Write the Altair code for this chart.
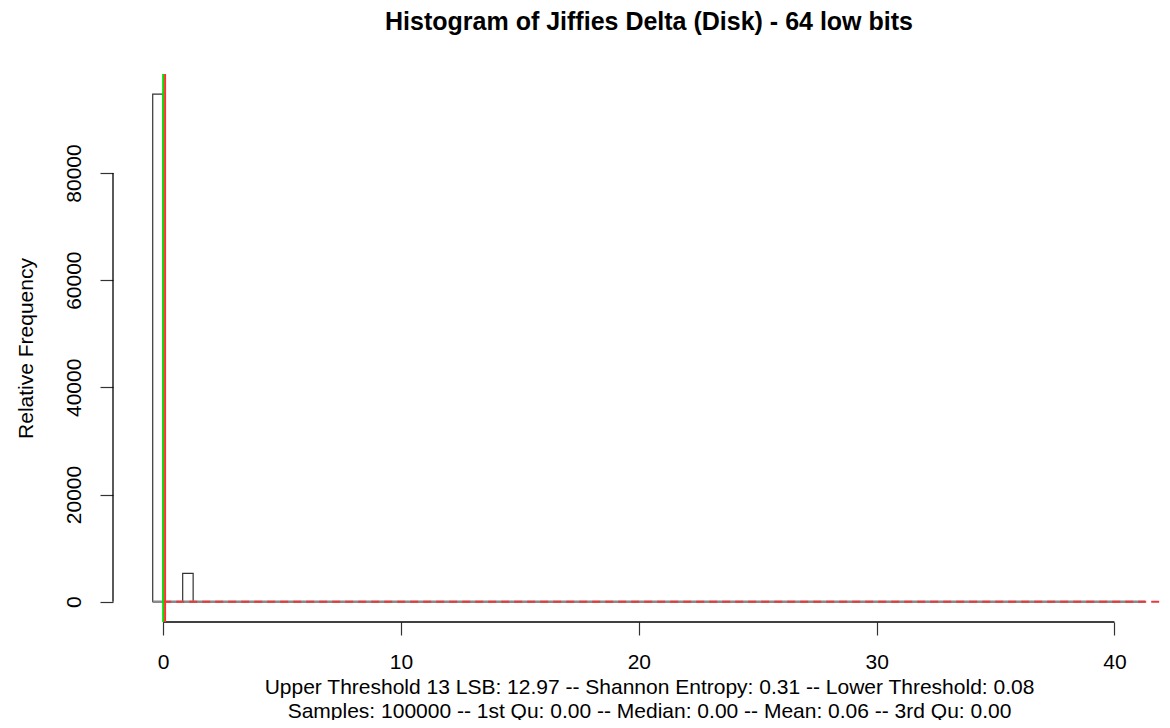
import altair as alt
import pandas as pd

# ---- text ----
chart_title = "Histogram of Jiffies Delta (Disk) - 64 low bits"
x_label_lines = [
    "Upper Threshold 13 LSB: 12.97 -- Shannon Entropy: 0.31 -- Lower Threshold: 0.08",
    "Samples: 100000 -- 1st Qu: 0.00 -- Median: 0.00 -- Mean: 0.06 -- 3rd Qu: 0.00",
]
y_label = "Relative Frequency"

# ---- histogram bins ----
bin_left = [-0.44, 0.82]
bin_right = [0.0, 1.26]
counts = [94700, 5300]

# empty bins (zero-height outline) and dashed reference line
base_start = [-0.44]
base_end = [41.29]
dash_start = [0.0]
dash_end = [42.0]

# vertical reference lines
vline_x = [0.0, 0.08]
vline_color = ["#00e000", "#ff3030"]

# axis ticks
x_ticks = [0, 10, 20, 30, 40]
y_ticks = [0, 20000, 40000, 60000, 80000]

X_DOMAIN = [-2.11, 42.0]
Y_DOMAIN = [-3788, 98470]

FONT = "Liberation Sans"

xs = alt.Scale(domain=X_DOMAIN, nice=False, zero=False)
ys = alt.Scale(domain=Y_DOMAIN, nice=False, zero=False)

XAXIS = alt.Axis(
    values=x_ticks, format="d", labelFlush=False, labelOverlap=False,
    labelPadding=33, labelBaseline="alphabetic", labelAlign="center",
    title=x_label_lines, titleX=536, titleY=71, titleAlign="center",
    titleBaseline="alphabetic", titleLineHeight=24)
YAXIS = alt.Axis(
    values=y_ticks, format="d", labelAngle=270, labelAlign="center",
    labelBaseline="alphabetic", labelPadding=20, labelFlush=False,
    labelOverlap=False,
    title=y_label, titleX=-81, titleY=274, titleAngle=270,
    titleAlign="center", titleBaseline="alphabetic")

bars_df = pd.DataFrame({"x": bin_left, "x2": bin_right,
                        "y": [0] * len(counts), "y2": counts})
base_df = pd.DataFrame({"x": base_start, "x2": base_end, "y": [0]})
dash_df = pd.DataFrame({"x": dash_start, "x2": dash_end, "y": [0]})
vl_df = pd.DataFrame({"x": vline_x, "c": vline_color,
                      "y": [Y_DOMAIN[0]] * len(vline_x),
                      "y2": [Y_DOMAIN[1]] * len(vline_x)})
xaxis_df = pd.DataFrame({"x": [x_ticks[0]], "x2": [x_ticks[-1]], "y": [Y_DOMAIN[0]]})
yaxis_df = pd.DataFrame({"y": [y_ticks[0]], "y2": [y_ticks[-1]], "x": [X_DOMAIN[0]]})


def X():
    return alt.X("x:Q", scale=xs, axis=XAXIS)


def Y():
    return alt.Y("y:Q", scale=ys, axis=YAXIS)


bars = alt.Chart(bars_df).mark_rect(
    fill="white", fillOpacity=0, stroke="#333333", strokeWidth=1.2
).encode(x=X(), x2="x2:Q", y=Y(), y2="y2:Q")

base = alt.Chart(base_df).mark_rule(color="#8a8a8a", strokeWidth=2.5).encode(
    x=X(), x2="x2:Q", y=Y())

dash = alt.Chart(dash_df).mark_rule(color="#e83a3a", strokeWidth=2,
                                    strokeDash=[8, 5]).encode(
    x=X(), x2="x2:Q", y=Y())

xaxis_line = alt.Chart(xaxis_df).mark_rule(color="black", strokeWidth=1.3).encode(
    x=X(), x2="x2:Q", y=Y())

yaxis_line = alt.Chart(yaxis_df).mark_rule(color="black", strokeWidth=1.3).encode(
    y=Y(), y2="y2:Q", x=X())

vlines = alt.Chart(vl_df).mark_rule(strokeWidth=2).encode(
    x=X(), y=Y(), y2="y2:Q",
    color=alt.Color("c:N", scale=None, legend=None),
)

chart = alt.layer(bars, base, dash, xaxis_line, yaxis_line, vlines).properties(
    width=1049, height=548,
    title=alt.TitleParams(chart_title, anchor="middle", dx=11.5, offset=38),
    autosize=alt.AutoSizeParams(type="none"),
    padding={"left": 105, "top": 66, "right": 0, "bottom": 98},
).configure_view(stroke=None).configure_axis(
    grid=False, domain=False,
    labelFont=FONT, labelFontSize=21, labelColor="black",
    titleFont=FONT, titleFontSize=21, titleFontWeight="normal", titleColor="black",
    tickColor="#333333", tickWidth=1.2, tickSize=13,
).configure_title(
    font=FONT, fontSize=25, fontWeight="bold", color="black",
)

chart.save("out.html", embed_options={"renderer": "svg", "actions": False})
